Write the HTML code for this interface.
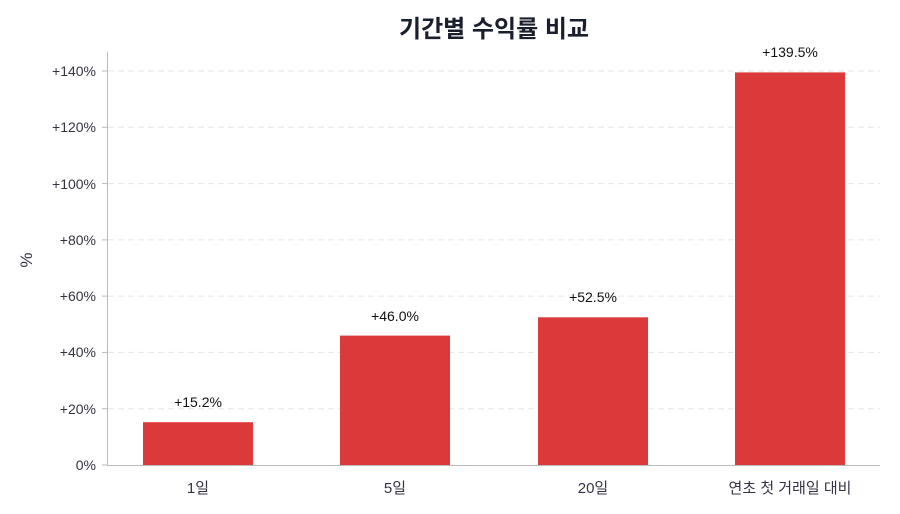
<!DOCTYPE html>
<html><head><meta charset="utf-8"><style>
html,body{margin:0;padding:0;background:#fff;}
svg{display:block;font-family:"Liberation Sans","Noto Sans CJK KR",sans-serif;}
</style></head><body>
<svg width="900" height="514" viewBox="0 0 900 514" xmlns="http://www.w3.org/2000/svg">
<rect width="900" height="514" fill="#fff"/>
<text x="494" y="37" text-anchor="middle" font-size="24" font-weight="bold" fill="#1a1f2e">기간별 수익률 비교</text>
<g stroke="#e6e6e6" stroke-dasharray="6,4" stroke-width="1">
<line x1="108" x2="880" y1="408.7" y2="408.7"/>
<line x1="108" x2="880" y1="352.4" y2="352.4"/>
<line x1="108" x2="880" y1="296.1" y2="296.1"/>
<line x1="108" x2="880" y1="239.9" y2="239.9"/>
<line x1="108" x2="880" y1="183.6" y2="183.6"/>
<line x1="108" x2="880" y1="127.3" y2="127.3"/>
<line x1="108" x2="880" y1="71" y2="71"/>
</g>
<g fill="#dc3a3a">
<rect x="143" y="422.2" width="110" height="42.8"/>
<rect x="340" y="335.6" width="110" height="129.4"/>
<rect x="538" y="317.3" width="110" height="147.7"/>
<rect x="735" y="72.4" width="110" height="392.6"/>
</g>
<line x1="107.5" x2="107.5" y1="52" y2="465" stroke="#bbb"/>
<line x1="107" x2="880" y1="465.5" y2="465.5" stroke="#bbb"/>
<g font-size="14" fill="#334" text-anchor="end">
<text x="96" y="470">0%</text>
<text x="96" y="414">+20%</text>
<text x="96" y="357">+40%</text>
<text x="96" y="301">+60%</text>
<text x="96" y="245">+80%</text>
<text x="96" y="189">+100%</text>
<text x="96" y="132">+120%</text>
<text x="96" y="76">+140%</text>
</g>
<g stroke="#bbb"><line x1="102" x2="107" y1="465" y2="465"/><line x1="102" x2="107" y1="408.7" y2="408.7"/><line x1="102" x2="107" y1="352.4" y2="352.4"/><line x1="102" x2="107" y1="296.1" y2="296.1"/><line x1="102" x2="107" y1="239.9" y2="239.9"/><line x1="102" x2="107" y1="183.6" y2="183.6"/><line x1="102" x2="107" y1="127.3" y2="127.3"/><line x1="102" x2="107" y1="71" y2="71"/></g>
<text x="32" y="260" font-size="17" fill="#334" text-anchor="middle" transform="rotate(-90 32 260)">%</text>
<g font-size="15" fill="#334" text-anchor="middle">
<text x="198" y="493">1일</text>
<text x="395" y="493">5일</text>
<text x="593" y="493">20일</text>
<text x="790" y="493">연초 첫 거래일 대비</text>
</g>
<g font-size="14" fill="#111" text-anchor="middle">
<text x="198" y="407">+15.2%</text>
<text x="395" y="321">+46.0%</text>
<text x="593" y="302">+52.5%</text>
<text x="790" y="57">+139.5%</text>
</g>
</svg>
</body></html>
